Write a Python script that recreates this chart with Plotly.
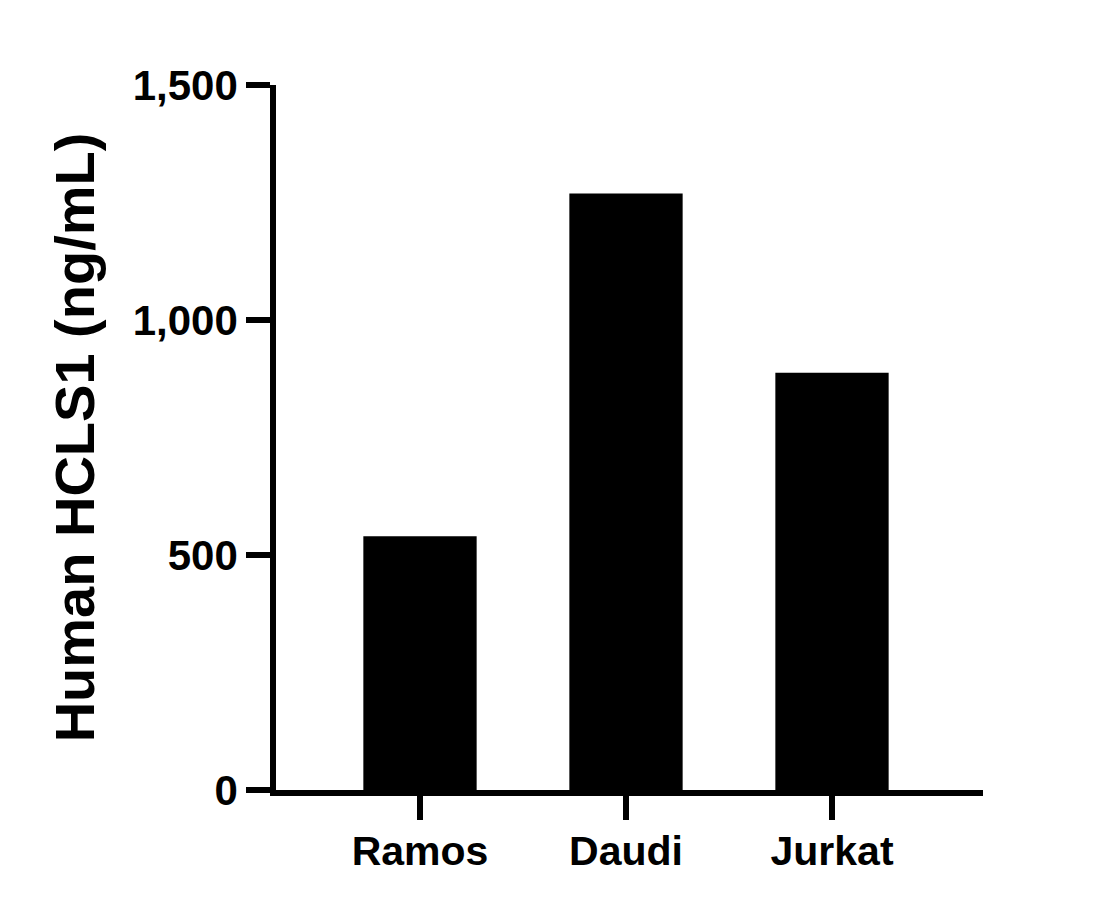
import plotly.graph_objects as go

categories = ["Ramos", "Daudi", "Jurkat"]
values = [540, 1269, 888]
y_tickvals = [0, 500, 1000, 1500]
y_ticktext = ["0", "500", "1,000", "1,500"]

FONT = "Arial, 'Liberation Sans', sans-serif"

fig = go.Figure(
    go.Bar(
        x=list(range(len(categories))),
        y=values,
        width=0.55,
        marker=dict(color="black", line=dict(width=0)),
    )
)

fig.update_layout(
    width=1115,
    height=910,
    margin=dict(l=268, r=140, t=77, b=128, pad=0),
    paper_bgcolor="white",
    plot_bgcolor="white",
    showlegend=False,
    font=dict(family=FONT, color="black"),
)

fig.update_xaxes(
    range=[-0.699, 2.733],
    tickvals=list(range(len(categories))),
    ticktext=categories,
    showgrid=False,
    zeroline=False,
    showline=True,
    linecolor="black",
    linewidth=5.5,
    ticks="outside",
    ticklen=24,
    tickwidth=5.5,
    tickcolor="black",
    ticklabelstandoff=-4,
    tickfont=dict(family=FONT, size=41, weight="bold", color="black"),
)

fig.update_yaxes(
    range=[0, 1500],
    tickvals=y_tickvals,
    ticktext=y_ticktext,
    showgrid=False,
    zeroline=False,
    showline=True,
    linecolor="black",
    linewidth=5.5,
    ticks="outside",
    ticklen=24,
    tickwidth=5.5,
    tickcolor="black",
    tickfont=dict(family=FONT, size=42, weight="bold", color="black"),
    title=dict(
        text="Human HCLS1 (ng/mL)",
        font=dict(family=FONT, size=56, weight="bold", color="black"),
        standoff=22,
    ),
)

fig.write_html("out.html")
